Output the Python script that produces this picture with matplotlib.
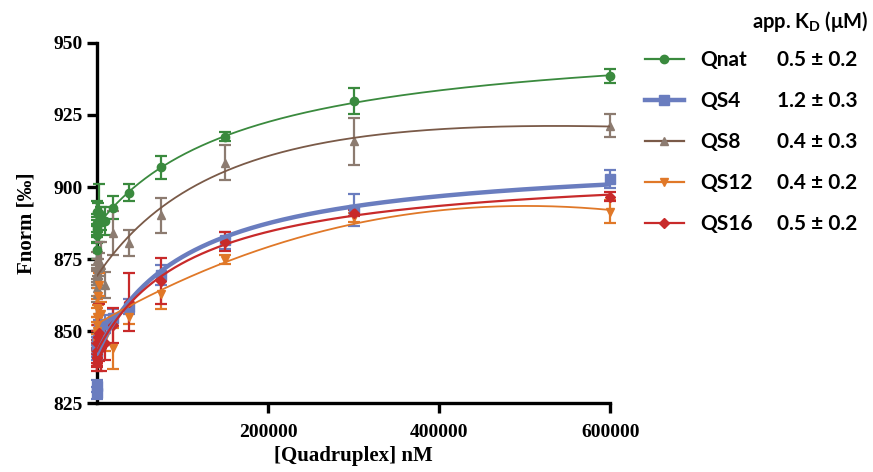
import matplotlib
matplotlib.use("Agg")
import matplotlib.pyplot as plt
from matplotlib.lines import Line2D
import numpy as np

# dilution series (nM)
conc = np.array([600000, 300000, 150000, 75000, 37500, 18750, 9375, 4688,
                 2344, 1172, 586, 293, 146, 73, 37, 18], dtype=float)

names = ["Qnat", "QS4", "QS8", "QS12", "QS16"]
kd_labels = ["0.5 \u00b1 0.2", "1.2 \u00b1 0.3", "0.4 \u00b1 0.3", "0.4 \u00b1 0.2", "0.5 \u00b1 0.2"]

qnat = [938.5, 929.8, 917.5, 906.8, 898.0, 892.8, 888.2, 889.0, 891.0, 890.5, 887.5, 885.5, 891.2, 883.5, 878.0, 886.5]
qnat_err = [2.5, 4.5, 1.5, 4.0, 3.0, 4.0, 5.0, 4.0, 10.0, 4.0, 3.0, 3.0, 4.0, 3.0, 3.0, 3.0]

qs4 = [902.8, 892.0, 881.5, 869.5, 858.5, 854.5, 852.5, 848.0, 851.0, 847.0, 846.0, 845.0, 843.0, 842.0, 831.0, 828.5]
qs4_err = [3.0, 5.5, 3.0, 3.5, 2.5, 3.0, 3.0, 3.0, 3.0, 3.0, 3.0, 3.0, 2.0, 2.0, 2.0, 2.0]

qs8 = [921.2, 915.8, 908.5, 890.2, 880.5, 884.0, 866.0, 873.0, 874.0, 872.0, 868.0, 870.0, 865.0, 863.0, 869.0, 874.5]
qs8_err = [4.0, 8.0, 6.0, 6.0, 4.6, 7.5, 4.5, 8.0, 3.0, 3.0, 3.0, 3.0, 3.0, 3.0, 3.0, 3.0]

qs12 = [891.4, 889.5, 874.8, 862.8, 855.0, 844.0, 848.0, 856.0, 866.0, 862.0, 858.0, 852.0, 849.0, 846.0, 850.0, 855.0]
qs12_err = [4.0, 1.5, 1.5, 5.0, 2.5, 7.0, 5.0, 4.0, 4.0, 3.0, 3.0, 3.0, 3.0, 3.0, 3.0, 3.0]

qs16 = [896.6, 890.9, 881.0, 867.5, 860.0, 852.0, 846.0, 844.0, 849.5, 848.0, 842.0, 840.5, 843.0, 841.0, 839.0, 846.0]
qs16_err = [1.5, 1.0, 3.3, 8.0, 10.0, 6.0, 6.0, 8.0, 10.0, 4.0, 4.0, 3.0, 4.0, 3.0, 3.0, 4.0]

series = [qnat, qs4, qs8, qs12, qs16]
errors = [qnat_err, qs4_err, qs8_err, qs12_err, qs16_err]
# QS8 and QS12 curves bend down at high conc -> fit with a non-specific linear term
nonspecific = [False, False, True, True, False]
colors = ["#3a8a3e", "#6a7dbf", "#7a5a48", "#e07828", "#c82a2a"]
marker_colors = ["#3a8a3e", "#6a7dbf", "#8c7b70", "#e07828", "#c82a2a"]
markers = ["o", "s", "^", "v", "D"]
line_widths = [1.3, 3.2, 1.3, 1.3, 1.6]
marker_sizes = [6, 6.5, 6, 6, 5]


def fit_binding(x, y, linear):
    """hyperbolic saturation (+ optional linear term), K found by grid search"""
    y = np.asarray(y)
    best = None
    for K in np.logspace(4.0, 6.7, 400):
        cols = [np.ones_like(x), x / (K + x)]
        if linear:
            cols.append(x)
        A = np.column_stack(cols)
        coef, *_ = np.linalg.lstsq(A, y, rcond=None)
        r = np.sum((A @ coef - y) ** 2)
        if best is None or r < best[0]:
            best = (r, K, coef)
    _, K, coef = best
    slope = coef[2] if linear else 0.0
    return lambda xx: coef[0] + coef[1] * xx / (K + xx) + slope * xx


plt.rcParams["font.family"] = "Liberation Serif"
plt.rcParams["font.weight"] = "bold"
plt.rcParams["mathtext.fontset"] = "custom"
plt.rcParams["mathtext.bf"] = "Lato:bold"
plt.rcParams["mathtext.rm"] = "Lato:bold"

fig = plt.figure(figsize=(8.73, 4.72), dpi=100)
ax = fig.add_axes([0.111, 0.146, 0.588, 0.763])

xs = np.linspace(conc.min(), conc.max(), 500)
for vals, err, lin, c, mc, m, lw, ms in zip(series, errors, nonspecific, colors, marker_colors,
                                             markers, line_widths, marker_sizes):
    ax.errorbar(conc, vals, yerr=err, fmt=m, color=mc, ecolor=mc, ms=ms,
                elinewidth=1.6, capsize=4, capthick=1.6, clip_on=False, zorder=3)
    f = fit_binding(conc, vals, lin)
    ax.plot(xs, f(xs), color=c, lw=lw, zorder=4, solid_capstyle="round")

ax.set_xlim(0, 600000)
ax.set_ylim(825, 950)
ax.set_xticks([200000, 400000, 600000])
ax.set_yticks([825, 850, 875, 900, 925, 950])
ax.spines["top"].set_visible(False)
ax.spines["right"].set_visible(False)
for s in ["left", "bottom"]:
    ax.spines[s].set_linewidth(2.4)
ax.tick_params(width=2.4, length=7, labelsize=14)
ax.tick_params(axis="x", pad=8)
ax.tick_params(axis="y", pad=3)
ax.set_xlabel("[Quadruplex] nM", fontsize=15, fontweight="bold", labelpad=4)
ax.set_ylabel("Fnorm [\u2030]", fontsize=15, fontweight="bold", labelpad=12)

handles = [Line2D([], [], color=c, marker=m, markerfacecolor=mc, markeredgecolor=mc,
                  lw=max(lw, 1.6), ms=ms)
           for c, mc, m, lw, ms in zip(colors, marker_colors, markers, line_widths, marker_sizes)]
leg = fig.legend(handles, names, loc="upper left", bbox_to_anchor=(645 / 873, 1 - 50 / 472),
                 frameon=False, prop={"family": "Lato", "weight": "bold", "size": 15},
                 handlelength=1.85, handletextpad=0.8, labelspacing=1.01,
                 borderpad=0, borderaxespad=0)

fig.text(752 / 873, 1 - 22 / 472, r"app. K$_\mathbf{D}$ ($\mathbf{\mu}$M)", fontsize=14.5,
         family="Lato", weight="bold", ha="left", va="center")

fig.canvas.draw()
for t, kd in zip(leg.get_texts(), kd_labels):
    bb = t.get_window_extent()
    yc = (bb.y0 + bb.y1) / 2 / fig.bbox.height
    fig.text(777 / 873, yc, kd, fontsize=15, family="Lato", weight="bold",
             ha="left", va="center")

fig.savefig("out.png", dpi=100)
